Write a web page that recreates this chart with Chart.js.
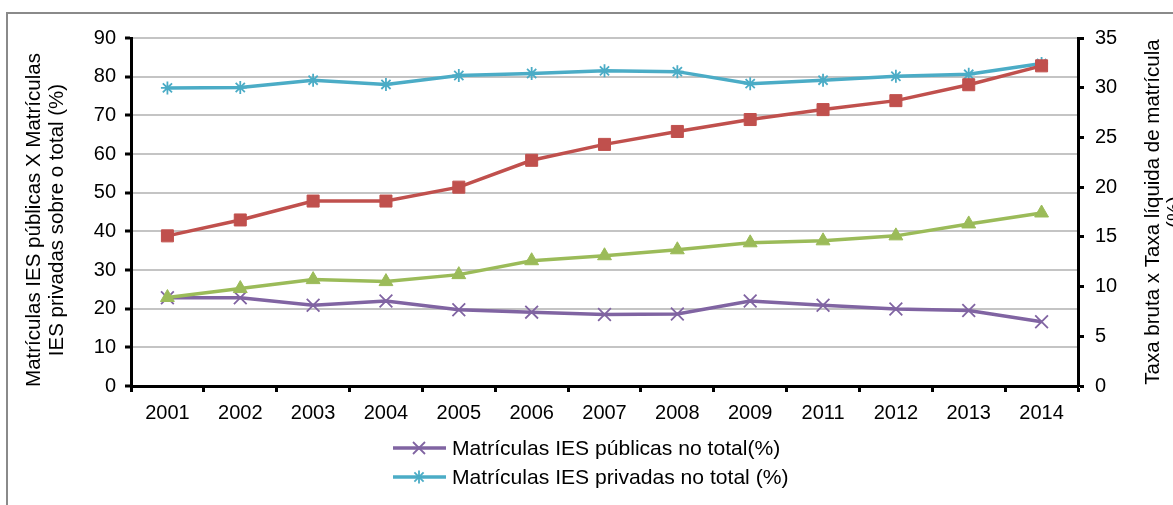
<!DOCTYPE html>
<html>
<head>
<meta charset="utf-8">
<script src="https://cdn.jsdelivr.net/npm/chart.js@4.4.1/dist/chart.umd.min.js"></script>
<style>
  html, body { margin: 0; padding: 0; background: #fff; overflow: hidden; }
  #wrap { position: relative; width: 1173px; height: 505px; }
  #frame { position: absolute; left: 6px; top: 12px; width: 1300px; height: 600px;
           border-left: 2px solid #8a8a8a; border-top: 2px solid #8a8a8a; }
  #chartBox { position: absolute; left: 0; top: 0; width: 1173px; height: 505px; }
  #legend { position: absolute; left: 392px; top: 433px; font: 21.1px "Liberation Sans", Arial, sans-serif; color: #000; }
  #legend .item { display: flex; align-items: center; height: 29.5px; }
  #legend svg { margin-right: 5px; }
</style>
</head>
<body>
<div id="wrap">
  <div id="frame"></div>
  <div id="chartBox"><canvas id="lineChart"></canvas></div>
  <div id="legend"></div>
</div>
<script>
// dades llegides del gràfic
const anos = ['2001','2002','2003','2004','2005','2006','2007','2008','2009','2011','2012','2013','2014'];
const publicas = [22.8, 22.8, 20.9, 22.0, 19.7, 19.1, 18.5, 18.6, 22.0, 20.9, 19.9, 19.5, 16.6];
const privadas = [77.1, 77.2, 79.1, 78.0, 80.3, 80.8, 81.5, 81.3, 78.2, 79.1, 80.1, 80.6, 83.4];
const taxaBruta = [15.1, 16.7, 18.6, 18.6, 20.0, 22.7, 24.3, 25.6, 26.8, 27.8, 28.7, 30.3, 32.2];
const taxaLiquida = [8.9, 9.8, 10.7, 10.5, 11.2, 12.6, 13.1, 13.7, 14.4, 14.6, 15.1, 16.3, 17.4];

const leftTicks = [0,10,20,30,40,50,60,70,80,90];
const rightTicks = [0,5,10,15,20,25,30,35];

const leftTitle = ['Matrículas IES públicas X Matrículas', 'IES privadas sobre o total (%)'];
const rightTitle = ['Taxa bruta x Taxa líquida de matrícula', '(%)'];

const FONT = '"Liberation Sans", Arial, sans-serif';
const colPub = '#8064A2', colPriv = '#4BACC6', colBruta = '#C0504D', colLiq = '#9BBB59';

// títols dels eixos (girats com a l'original)
const axisTitles = {
    id: 'axisTitles',
    afterDraw(chart){
        const ctx = chart.ctx;
        const a = chart.chartArea;
        ctx.save();
        ctx.font = '20.5px ' + FONT;
        ctx.fillStyle = '#000';
        ctx.textAlign = 'center';
        ctx.textBaseline = 'middle';

        ctx.save();
        ctx.translate(a.left - 97, (a.top + a.bottom)/2 + 8);
        ctx.rotate(-Math.PI/2);
        ctx.fillText(leftTitle[0], 0, 0);
        ctx.fillText(leftTitle[1], 0, 23.5);
        ctx.restore();

        ctx.save();
        ctx.translate(a.right + 75, (a.top + a.bottom)/2);
        ctx.rotate(-Math.PI/2);
        ctx.fillText(rightTitle[0], 0, 0);
        ctx.fillText(rightTitle[1], 0, 22);
        ctx.restore();

        ctx.restore();
    }
};

function fixedTicks(list){
    return s => { s.ticks = list.map(v => ({ value: v })); };
}

const ctx = document.getElementById('lineChart').getContext('2d');
const chart = new Chart(ctx, {
    type: 'line',
    data: {
        labels: anos,
        datasets: [
            { label: 'Matrículas IES públicas no total(%)', data: publicas, yAxisID: 'y', order: 4,
              borderColor: colPub, backgroundColor: colPub, borderWidth: 3.5,
              pointStyle: 'crossRot', pointRadius: 9, pointBorderWidth: 1.8, pointBorderColor: colPub },
            { label: 'Matrículas IES privadas no total (%)', data: privadas, yAxisID: 'y', order: 3,
              borderColor: colPriv, backgroundColor: colPriv, borderWidth: 3.5,
              pointStyle: 'star', pointRadius: 6.5, pointBorderWidth: 1.8, pointBorderColor: colPriv },
            { label: 'Taxa bruta', data: taxaBruta, yAxisID: 'y1', order: 2,
              borderColor: colBruta, backgroundColor: colBruta, borderWidth: 3.5,
              pointStyle: 'rect', pointRadius: 8.5, pointBorderWidth: 1, pointBorderColor: colBruta },
            { label: 'Taxa líquida', data: taxaLiquida, yAxisID: 'y1', order: 1,
              borderColor: colLiq, backgroundColor: colLiq, borderWidth: 3.5,
              pointStyle: 'triangle', pointRadius: 8, pointBorderWidth: 1, pointBorderColor: colLiq }
        ]
    },
    options: {
        responsive: true,
        maintainAspectRatio: false,
        animation: false,
        layout: { padding: { top: 38, left: 0, right: 0, bottom: 0 } },
        plugins: { legend: { display: false }, tooltip: { enabled: false } },
        elements: { line: { tension: 0 } },
        scales: {
            x: {
                offset: true,
                grid: { offset: true, drawOnChartArea: false, drawTicks: true, tickLength: 6,
                        tickColor: '#000', tickWidth: 3 },
                border: { display: true, color: '#000', width: 3 },
                ticks: { color: '#000', font: { family: FONT, size: 20 }, padding: 9, maxRotation: 0 },
                afterFit: s => { s.height = 119; }
            },
            y: {
                position: 'left',
                min: 0, max: 90,
                afterBuildTicks: fixedTicks(leftTicks),
                grid: { color: '#c4c4c4', lineWidth: 2, tickLength: 6, tickColor: '#000', tickWidth: 3 },
                border: { display: true, color: '#000', width: 3 },
                ticks: { color: '#000', font: { family: FONT, size: 20 }, padding: 9 },
                afterFit: s => { s.width = 131; }
            },
            y1: {
                position: 'right',
                min: 0, max: 35,
                afterBuildTicks: fixedTicks(rightTicks),
                grid: { drawOnChartArea: false, tickLength: 6, tickColor: '#000', tickWidth: 3 },
                border: { display: true, color: '#000', width: 3 },
                ticks: { color: '#000', font: { family: FONT, size: 20 }, padding: 11 },
                afterFit: s => { s.width = 95; }
            }
        }
    },
    plugins: [axisTitles]
});

// llegenda (només les dues primeres sèries, com a l'original)
function markerSvg(color, style){
    let m = '';
    if(style === 'crossRot'){
        m = `<line x1="21" y1="9" x2="33" y2="21" stroke="${color}" stroke-width="1.8"/>` +
            `<line x1="33" y1="9" x2="21" y2="21" stroke="${color}" stroke-width="1.8"/>`;
    } else {
        m = `<line x1="27" y1="8.5" x2="27" y2="21.5" stroke="${color}" stroke-width="1.8"/>` +
            `<line x1="22.4" y1="10.4" x2="31.6" y2="19.6" stroke="${color}" stroke-width="1.8"/>` +
            `<line x1="31.6" y1="10.4" x2="22.4" y2="19.6" stroke="${color}" stroke-width="1.8"/>`;
    }
    return `<svg width="55" height="30"><line x1="1" y1="15" x2="54" y2="15" stroke="${color}" stroke-width="3.5"/>${m}</svg>`;
}
const legendEl = document.getElementById('legend');
const legendStyles = ['crossRot', 'star'];
chart.data.datasets.slice(0,2).forEach((ds, i) => {
    const row = document.createElement('div');
    row.className = 'item';
    row.innerHTML = markerSvg(ds.borderColor, legendStyles[i]) + '<span>' + ds.label + '</span>';
    legendEl.appendChild(row);
});
</script>
</body>
</html>
